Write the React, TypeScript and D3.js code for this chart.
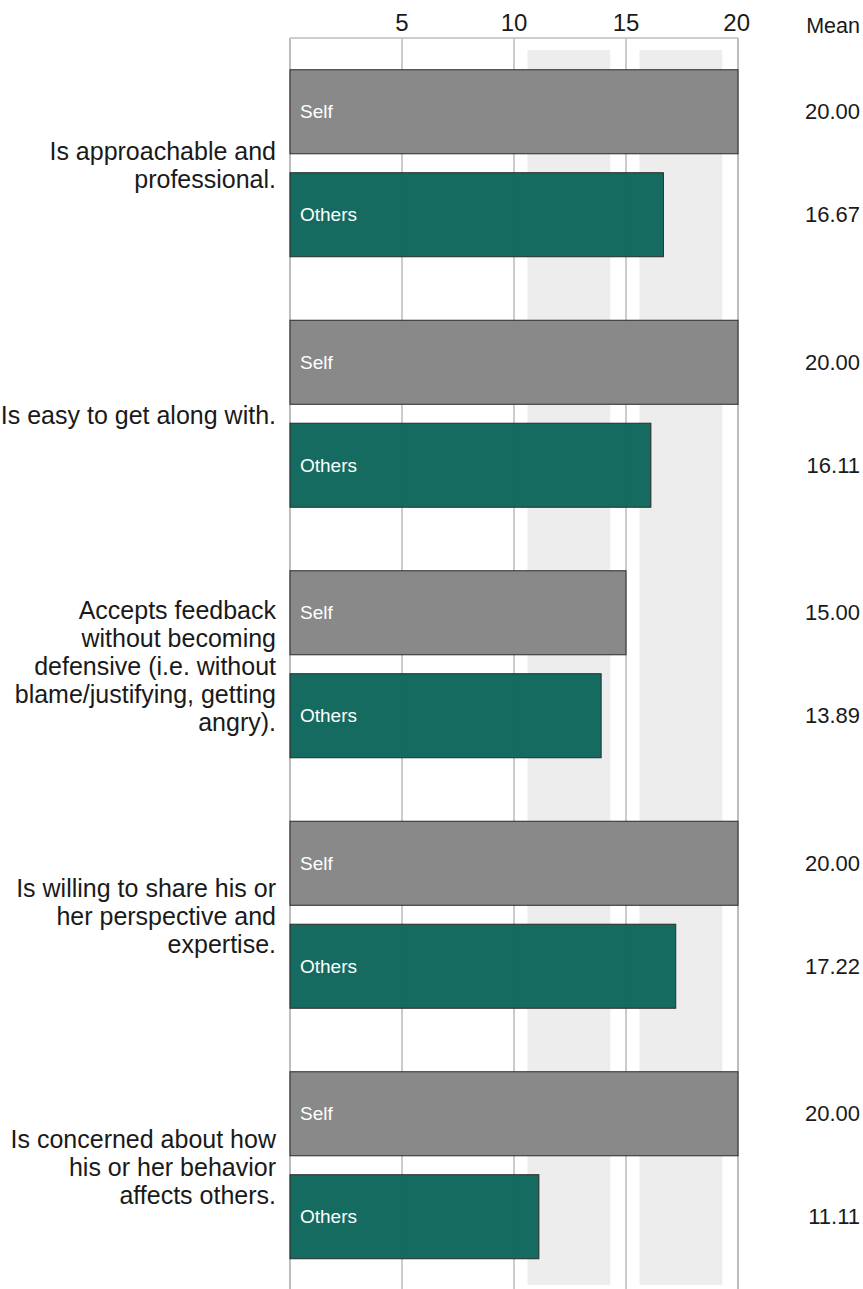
import React from "react";
import * as d3 from "d3";

// Survey items (line-wrapped as they are shown)
const itemLines: string[][] = [
  ["Is approachable and", "professional."],
  ["Is easy to get along with."],
  ["Accepts feedback", "without becoming", "defensive (i.e. without", "blame/justifying, getting", "angry)."],
  ["Is willing to share his or", "her perspective and", "expertise."],
  ["Is concerned about how", "his or her behavior", "affects others."],
];
const items: string[] = itemLines.map((l) => l.join(" "));

const raters: string[] = ["Self", "Others"];
const selfMeans: number[] = [20.0, 20.0, 15.0, 20.0, 20.0];
const othersMeans: number[] = [16.67, 16.11, 13.89, 17.22, 11.11];

const tickValues: number[] = [5, 10, 15, 20];
// Shaded reference zones along the score axis
const zoneStarts: number[] = [10.6, 15.6];
const zoneEnds: number[] = [14.3, 19.3];

const W = 863;
const H = 1289;
const FONT = "'Liberation Sans', Arial, sans-serif";

export default function App() {
  const x = d3.scaleLinear().domain([0, 20]).range([290, 738]);
  const y = d3
    .scaleBand<string>()
    .domain(items)
    .range([38, 1290.5])
    .paddingInner(0.2535)
    .paddingOuter(0.12675);
  const yInner = d3
    .scaleBand<string>()
    .domain(raters)
    .range([0, y.bandwidth()])
    .paddingInner(0.184)
    .paddingOuter(0);

  const colors: Record<string, string> = { Self: "#858585", Others: "#0d665b" };
  const frameTop = 38;
  const zoneTop = 50;
  const zoneBottom = 1285;

  const rows = items.map((item, i) => ({
    item,
    lines: itemLines[i],
    values: [
      { rater: "Self", value: selfMeans[i] },
      { rater: "Others", value: othersMeans[i] },
    ],
  }));

  return (
    <svg
      width={W}
      height={H}
      viewBox={`0 0 ${W} ${H}`}
      style={{ position: "absolute", left: 0, top: 0, background: "#fff" }}
      fontFamily={FONT}
    >
      {/* shaded zones */}
      {zoneStarts.map((s, i) => (
        <rect
          key={`z${i}`}
          x={x(s)}
          y={zoneTop}
          width={x(zoneEnds[i]) - x(s)}
          height={zoneBottom - zoneTop}
          fill="#ededed"
        />
      ))}

      {/* vertical grid lines */}
      {tickValues.map((t) => (
        <line
          key={`g${t}`}
          x1={x(t)}
          x2={x(t)}
          y1={frameTop}
          y2={H}
          stroke={t === 20 ? "#bdbdbd" : "#b0b0b0"}
          strokeWidth={t === 20 ? 2 : 1.3}
        />
      ))}
      {/* frame: top and left */}
      <line x1={x(0)} x2={x(20)} y1={frameTop} y2={frameTop} stroke="#bdbdbd" strokeWidth={1.5} />
      <line x1={x(0)} x2={x(0)} y1={frameTop} y2={H} stroke="#bdbdbd" strokeWidth={2} />

      {/* tick labels */}
      {tickValues.map((t) => (
        <text
          key={`t${t}`}
          x={x(t)}
          y={31}
          textAnchor={t === 20 ? "end" : "middle"}
          dx={t === 20 ? 12 : 0}
          fontSize={24}
          fill="#1a1a1a"
        >
          {t}
        </text>
      ))}
      <text x={860} y={33} textAnchor="end" fontSize={21.5} fill="#1a1a1a">
        Mean
      </text>

      {rows.map((row) => {
        const y0 = y(row.item) as number;
        const cy = y0 + y.bandwidth() / 2;
        const lh = 28;
        const startY = cy - ((row.lines.length - 1) * lh) / 2;
        return (
          <g key={row.item}>
            <text textAnchor="end" fontSize={25} fill="#1a1a1a">
              {row.lines.map((ln, k) => (
                <tspan key={k} x={276} y={startY + k * lh + 1.5} dy="0.35em">
                  {ln}
                </tspan>
              ))}
            </text>
            {row.values.map((d) => {
              const by = y0 + (yInner(d.rater) as number);
              const bh = yInner.bandwidth();
              return (
                <g key={d.rater}>
                  <rect
                    x={x(0)}
                    y={by}
                    width={x(d.value) - x(0)}
                    height={bh}
                    fill={colors[d.rater]}
                    fillOpacity={0.97}
                    stroke="#2a2a2a"
                    strokeWidth={1}
                  />
                  <text
                    x={x(0) + 10}
                    y={by + bh / 2}
                    dy="0.35em"
                    fontSize={19}
                    fill="#ffffff"
                  >
                    {d.rater}
                  </text>
                  <text
                    x={860}
                    y={by + bh / 2}
                    dy="0.35em"
                    textAnchor="end"
                    fontSize={22}
                    fill="#1a1a1a"
                  >
                    {d.value.toFixed(2)}
                  </text>
                </g>
              );
            })}
          </g>
        );
      })}
    </svg>
  );
}
